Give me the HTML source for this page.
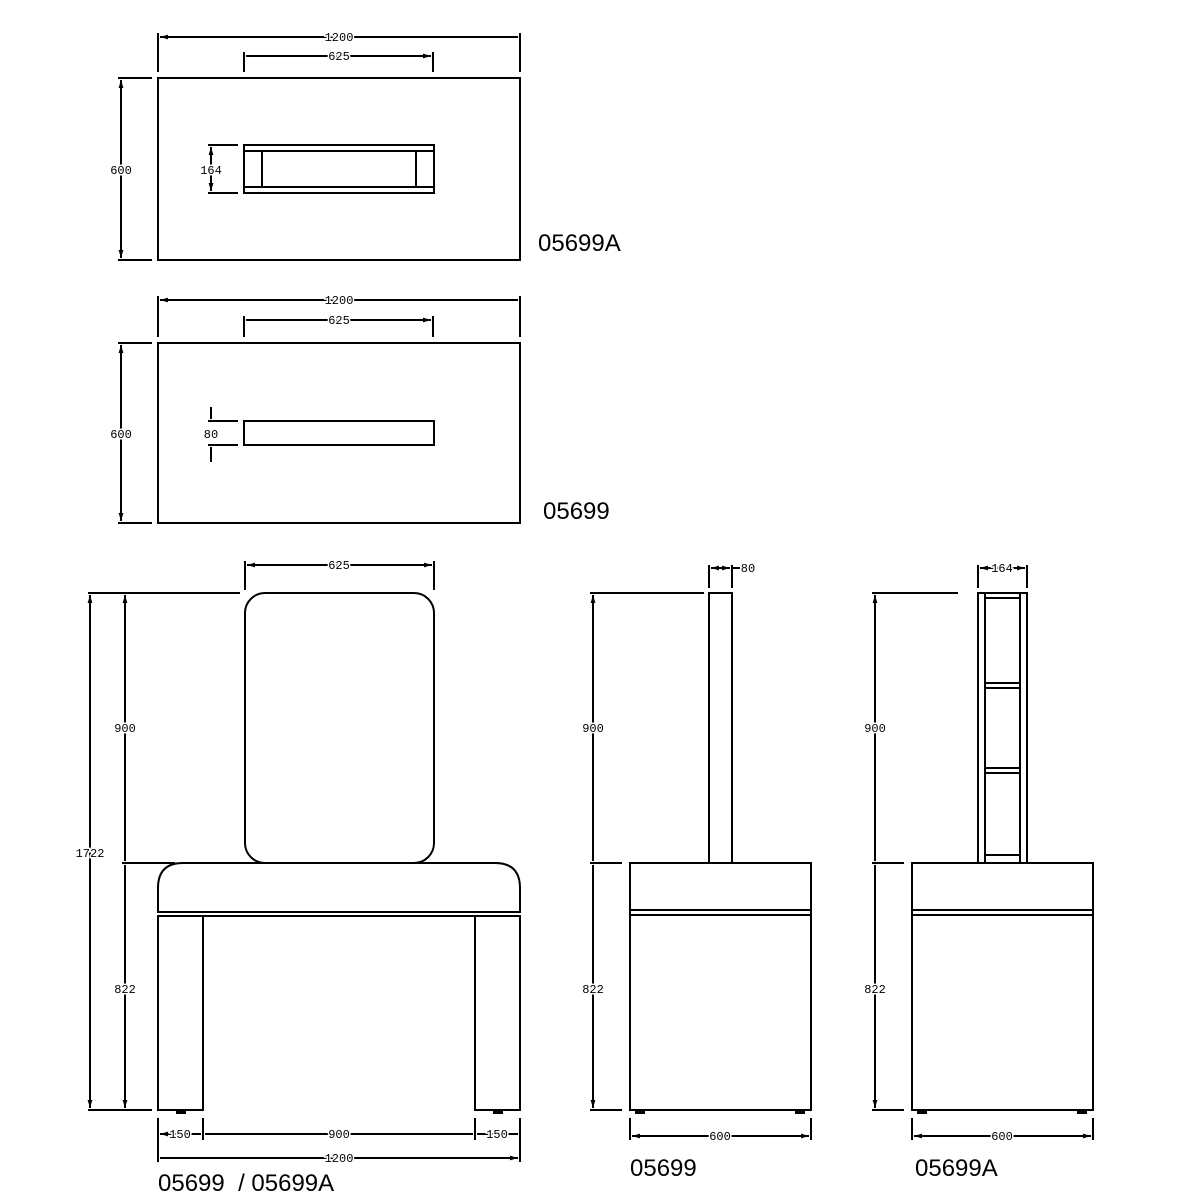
<!DOCTYPE html>
<html><head><style>body{margin:0;background:#fff}svg{display:block}</style></head><body>
<svg width="1200" height="1200" viewBox="0 0 1200 1200" xmlns="http://www.w3.org/2000/svg" font-family="Liberation Sans, sans-serif">
<defs>
<marker id="a" viewBox="0 0 10 10" refX="10" refY="5" markerWidth="4" markerHeight="4" orient="auto-start-reverse"><path d="M0,2 L10,5 L0,8z" fill="#000"/></marker>
</defs>
<g stroke="#000" stroke-width="2" fill="none">
<rect x="158" y="78" width="362" height="182"/>
<path d="M158 72V33M520 72V33M244 72V52M433 72V52"/>
<path d="M160 37H518M246 56H431" marker-start="url(#a)" marker-end="url(#a)"/>
<path d="M152 78H118M152 260H118"/>
<path d="M121 80V258" marker-start="url(#a)" marker-end="url(#a)"/>
<rect x="244" y="145" width="190" height="48"/>
<path d="M244 151H434M244 187H434M262 151V187M416 151V187"/>
<path d="M238 145H208M238 193H208"/>
<path d="M211 147V191" marker-start="url(#a)" marker-end="url(#a)"/>
<rect x="158" y="343" width="362" height="180"/>
<path d="M158 337V296M520 337V296M244 337V316M433 337V316"/>
<path d="M160 300H518M246 320H431" marker-start="url(#a)" marker-end="url(#a)"/>
<path d="M152 343H118M152 523H118"/>
<path d="M121 345V521" marker-start="url(#a)" marker-end="url(#a)"/>
<rect x="244" y="421" width="190" height="24"/>
<path d="M238 421H208M238 445H208M211 407V419M211 447V462"/>
<rect x="245" y="593" width="189" height="270" rx="20"/>
<path d="M245 590V561M434 590V561"/>
<path d="M247 565H432" marker-start="url(#a)" marker-end="url(#a)"/>
<path d="M158 912V888Q158 863 183 863H495Q520 863 520 888V912Z"/>
<path d="M158 916H520"/>
<rect x="158" y="916" width="45" height="194"/>
<rect x="475" y="916" width="45" height="194"/>
<path d="M176 1112H186M493 1112H503" stroke-width="4"/>
<path d="M88 593H240M88 1110H152M122 863H175"/>
<path d="M90 595V1108" marker-start="url(#a)" marker-end="url(#a)"/>
<path d="M125 595V861M125 865V1108" marker-start="url(#a)" marker-end="url(#a)"/>
<path d="M158 1118V1162M203 1118V1140M475 1118V1140M520 1118V1162"/>
<path d="M160 1134H201M205 1134H473M477 1134H518M160 1158H518" marker-start="url(#a)" marker-end="url(#a)"/>
<rect x="709" y="593" width="23" height="270"/>
<rect x="630" y="863" width="181" height="247"/>
<path d="M630 910H811M630 915H811"/>
<path d="M635 1112H645M795 1112H805" stroke-width="4"/>
<path d="M590 593H704M590 863H622M590 1110H622"/>
<path d="M593 595V861M593 865V1108" marker-start="url(#a)" marker-end="url(#a)"/>
<path d="M709 588V565M732 588V565M732 568H740"/>
<path d="M711 568H730" marker-start="url(#a)" marker-end="url(#a)"/>
<path d="M630 1118V1140M811 1118V1140"/>
<path d="M632 1136H809" marker-start="url(#a)" marker-end="url(#a)"/>
<rect x="978" y="593" width="49" height="270"/>
<path d="M985 593V863M1020 593V863M985 598H1020M985 683H1020M985 688H1020M985 768H1020M985 773H1020M985 855H1020"/>
<rect x="912" y="863" width="181" height="247"/>
<path d="M912 910H1093M912 915H1093"/>
<path d="M917 1112H927M1077 1112H1087" stroke-width="4"/>
<path d="M872 593H958M872 863H904M872 1110H904"/>
<path d="M875 595V861M875 865V1108" marker-start="url(#a)" marker-end="url(#a)"/>
<path d="M978 588V565M1027 588V565"/>
<path d="M980 568H1025" marker-start="url(#a)" marker-end="url(#a)"/>
<path d="M912 1118V1140M1093 1118V1140"/>
<path d="M914 1136H1091" marker-start="url(#a)" marker-end="url(#a)"/>
</g>
<g font-size="12" text-anchor="middle" font-family="Liberation Mono, monospace" fill="#000">
<g stroke="#fff" stroke-width="3" paint-order="stroke">
<text x="339" y="41">1200</text><text x="339" y="60">625</text>
<text x="121" y="174">600</text><text x="211" y="174">164</text>
<text x="339" y="304">1200</text><text x="339" y="324">625</text>
<text x="121" y="438">600</text><text x="211" y="438">80</text>
<text x="339" y="569">625</text>
<text x="90" y="857">1722</text><text x="125" y="732">900</text><text x="125" y="993">822</text>
<text x="180" y="1138">150</text><text x="339" y="1138">900</text><text x="497" y="1138">150</text>
<text x="339" y="1162">1200</text>
<text x="593" y="732">900</text><text x="593" y="993">822</text>
<text x="748" y="572">80</text><text x="720" y="1140">600</text>
<text x="875" y="732">900</text><text x="875" y="993">822</text>
<text x="1002" y="572">164</text><text x="1002" y="1140">600</text>
</g></g>
<g font-size="24" fill="#000">
<text x="538" y="251">05699A</text>
<text x="543" y="519">05699</text>
<text x="158" y="1191">05699&#160; / 05699A</text>
<text x="630" y="1176">05699</text>
<text x="915" y="1176">05699A</text>
</g>
</svg>
</body></html>
